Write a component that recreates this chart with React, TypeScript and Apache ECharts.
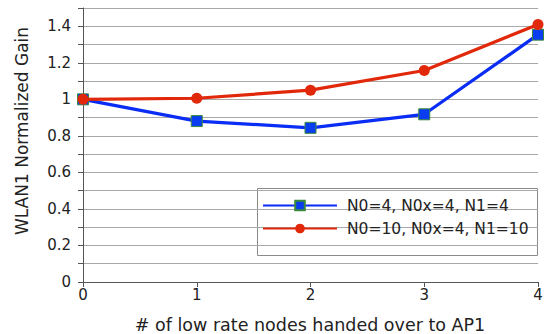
import React, { useEffect, useRef } from "react";
import * as echarts from "echarts";

// Number of low-rate nodes moved to AP1
const handedOver = [0, 1, 2, 3, 4];
// WLAN1 normalized gain per configuration
const gainSmall = [1.0, 0.881, 0.844, 0.918, 1.354];
const gainLarge = [1.0, 1.006, 1.05, 1.158, 1.41];
const seriesNames = ["N0=4, N0x=4, N1=4", "N0=10, N0x=4, N1=10"];
const xTitle = "# of low rate nodes handed over to AP1";
const yTitle = "WLAN1 Normalized Gain";

const FONT = "DejaVu Sans";
const INK = "#222222";

export default function App() {
  const ref = useRef<HTMLDivElement>(null);

  useEffect(() => {
    if (!ref.current) return;
    const chart = echarts.init(ref.current, undefined, { renderer: "svg" });
    chart.setOption({
      animation: false,
      backgroundColor: "#ffffff",
      textStyle: { fontFamily: FONT },
      grid: { left: 83, right: 19, top: 8, bottom: 52, containLabel: false, outerBoundsMode: "none" },
      xAxis: {
        type: "value",
        min: 0,
        max: 4,
        interval: 1,
        axisLine: { lineStyle: { color: "#555", width: 1 } },
        axisTick: { show: true, length: 5, lineStyle: { color: "#555" } },
        axisLabel: { fontSize: 15, color: INK, margin: 5, fontFamily: FONT },
        splitLine: { show: false },
      },
      yAxis: {
        type: "value",
        min: 0,
        max: 1.5,
        interval: 0.1,
        axisLine: { show: true, lineStyle: { color: "#555", width: 1 } },
        axisTick: { show: true, length: 5, lineStyle: { color: "#555" } },
        axisLabel: {
          fontSize: 15,
          color: INK,
          margin: 12,
          fontFamily: FONT,
          formatter: (v: number) => {
            const t = Math.round(v * 10);
            return t % 2 === 0 ? String(t / 10) : "";
          },
        },
        splitLine: { show: true, lineStyle: { color: "#a8a8a8", width: 1 } },
      },
      legend: {
        orient: "vertical",
        left: 262,
        top: 195,
        itemWidth: 74,
        itemHeight: 12,
        itemGap: 2,
        padding: 0,
        textStyle: { fontSize: 15.5, color: INK, fontFamily: FONT, lineHeight: 21, padding: [0, 0, 0, 5] },
        data: seriesNames,
      },
      graphic: [
        {
          type: "rect",
          left: 257,
          top: 188,
          z: 0,
          shape: { width: 280, height: 67 },
          style: { fill: "#ffffff", stroke: "#8a8a8a", lineWidth: 1 },
        },
        {
          type: "text",
          x: 22,
          y: 131,
          rotation: Math.PI / 2,
          style: {
            text: yTitle,
            fontSize: 17,
            fontFamily: FONT,
            fill: INK,
            align: "center",
            verticalAlign: "middle",
          },
        },
        {
          type: "text",
          x: 310,
          y: 325,
          style: {
            text: xTitle,
            fontSize: 17.5,
            fontFamily: FONT,
            fill: INK,
            align: "center",
            verticalAlign: "middle",
          },
        },
      ],
      series: [
        {
          name: seriesNames[0],
          type: "line",
          data: handedOver.map((x, i) => [x, gainSmall[i]]),
          symbol: "rect",
          symbolSize: 11,
          lineStyle: { color: "#0a2df5", width: 3.2 },
          itemStyle: { color: "#0a3cf0", borderColor: "#3a8a3a", borderWidth: 1 },
          z: 3,
        },
        {
          name: seriesNames[1],
          type: "line",
          data: handedOver.map((x, i) => [x, gainLarge[i]]),
          symbol: "circle",
          symbolSize: 11,
          lineStyle: { color: "#e2280a", width: 3.2 },
          itemStyle: { color: "#e2280a" },
          z: 4,
        },
      ],
    });
    return () => chart.dispose();
  }, []);

  return <div ref={ref} style={{ width: 557, height: 334, position: "absolute", left: 0, top: 0 }} />;
}
